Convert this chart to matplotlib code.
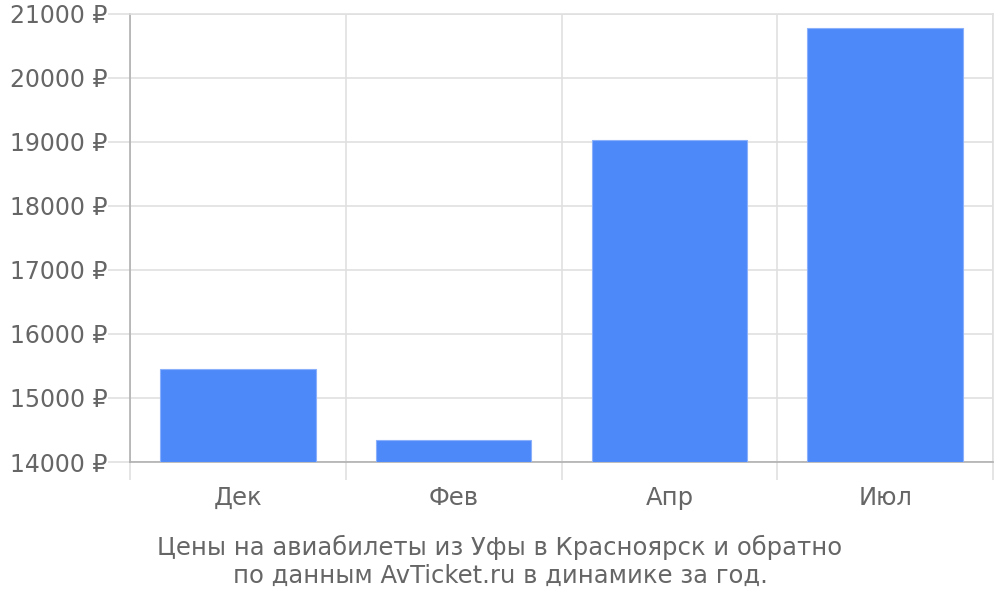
import matplotlib
matplotlib.use("Agg")
import matplotlib.pyplot as plt
import numpy as np

categories = ["Дек", "Фев", "Апр", "Июл"]
prices = [15453, 14344, 19036, 20781]
yticks = [14000, 15000, 16000, 17000, 18000, 19000, 20000, 21000]
caption = "Цены на авиабилеты из Уфы в Красноярск и обратно\nпо данным AvTicket.ru в динамике за год."

text_color = "#666666"
grid_color = "#e0e0e0"
axis_color = "#b0b0b0"
bar_color = "#4d89f9"

fig = plt.figure(figsize=(10, 6), dpi=100)
ax = fig.add_axes([0.13, 0.23, 0.863, 0.7467])

x = np.arange(len(categories))
base = yticks[0]
ax.bar(x, np.array(prices) - base, bottom=base, width=0.72, color=bar_color,
       edgecolor="#8ab0fb", linewidth=0.8, zorder=3)

ax.set_xlim(-0.5, len(categories) - 0.5)
ax.set_ylim(yticks[0], yticks[-1])
ax.set_yticks(yticks)
ax.set_yticklabels([f"{v} ₽" for v in yticks])
ax.set_xticks(x)
ax.set_xticklabels(categories)
ax.set_xticks(np.arange(len(categories) + 1) - 0.5, minor=True)

ax.yaxis.grid(True, color=grid_color, linewidth=1.2, zorder=0)
ax.xaxis.grid(True, which="minor", color=grid_color, linewidth=1.2, zorder=0)
ax.xaxis.grid(False, which="major")

ax.tick_params(axis="y", length=16, color=grid_color, width=1.2, labelsize=17,
               labelcolor=text_color, pad=0)
ax.tick_params(axis="x", which="major", length=0, labelsize=17.5, labelcolor=text_color, pad=17)
ax.tick_params(axis="x", which="minor", length=13, color=grid_color, width=1.2)

for side in ["top", "right"]:
    ax.spines[side].set_color(grid_color)
    ax.spines[side].set_linewidth(1.2)
ax.spines["left"].set_color(axis_color)
ax.spines["left"].set_linewidth(1.2)
ax.spines["bottom"].set_color(axis_color)
ax.spines["bottom"].set_linewidth(1.2)

fig.text(0.5, 0.064, caption, ha="center", va="center", fontsize=17.5,
         color=text_color, linespacing=1.2)

fig.savefig("out.png", dpi=100)
